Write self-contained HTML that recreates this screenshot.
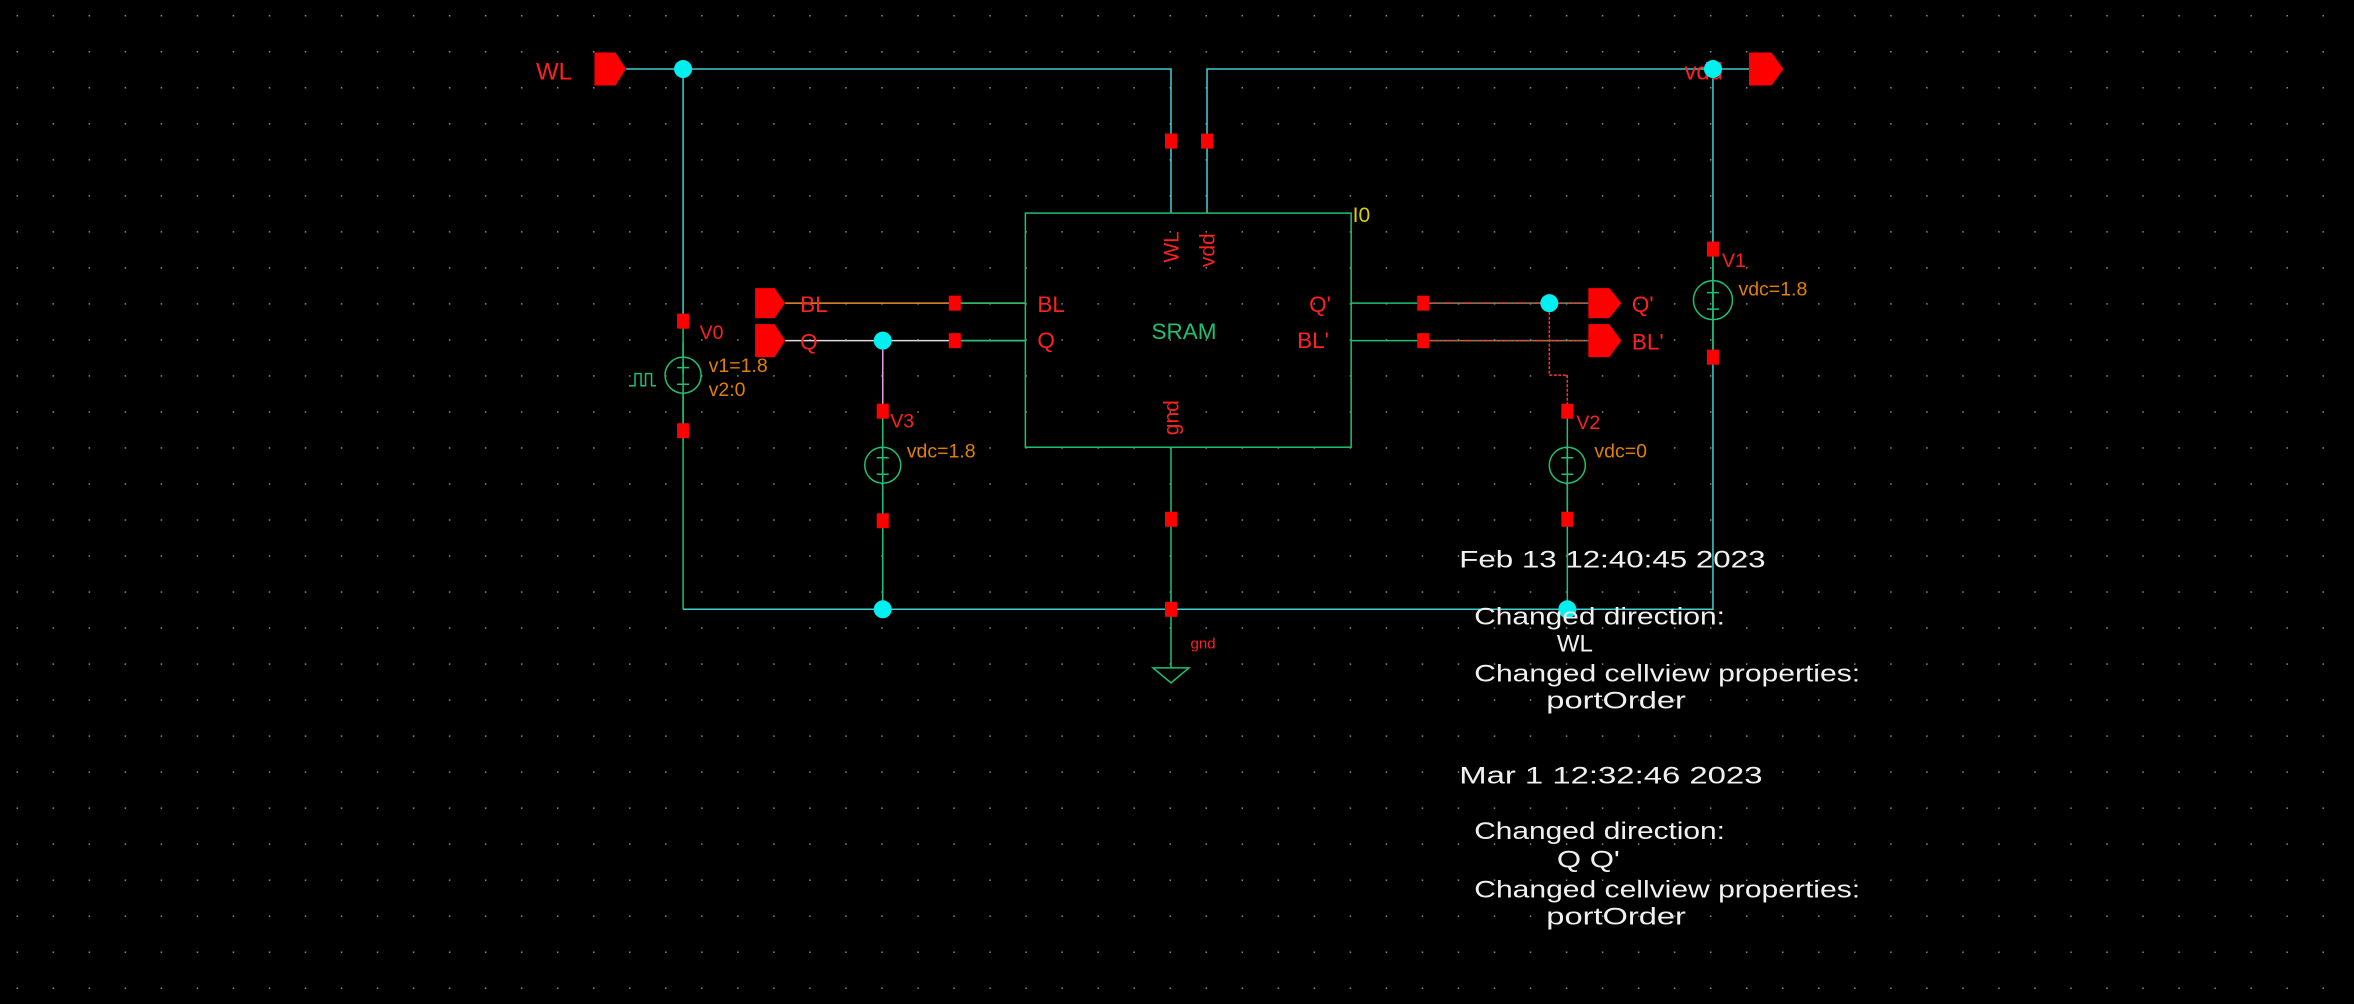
<!DOCTYPE html>
<html><head><meta charset="utf-8"><style>
html,body{margin:0;padding:0;background:#000;width:2354px;height:1004px;overflow:hidden}
svg{display:block}
text{font-family:"Liberation Sans",sans-serif}
</style></head><body>
<svg width="2354" height="1004" viewBox="0 0 1568 669" preserveAspectRatio="none" xmlns="http://www.w3.org/2000/svg">
<defs>
<pattern id="grid" x="11" y="10" width="24" height="24" patternUnits="userSpaceOnUse">
<rect x="0" y="0" width="1" height="1" fill="#8a8a8a"/>
</pattern>
</defs>
<rect width="1568" height="669" fill="#000"/>
<rect width="1568" height="669" fill="url(#grid)"/>

<g fill="none" stroke-width="1">
<polyline points="417,46 780,46 780,142" stroke="#3fd0d0"/>
<polyline points="804,142 804,46 1165,46" stroke="#3fd0d0"/>
<line x1="455" y1="46" x2="455" y2="214" stroke="#3fd0d0"/>
<line x1="455" y1="214" x2="455" y2="406" stroke="#1fc070"/>
<polyline points="455,406 1141,406 1141,46" stroke="#3fd0d0"/>
<line x1="1141" y1="166" x2="1141" y2="238" stroke="#1fc070"/>
<line x1="780" y1="298" x2="780" y2="445" stroke="#1fc070"/>
<line x1="523" y1="202" x2="683" y2="202" stroke="#e89030"/>
<line x1="636" y1="202" x2="683" y2="202" stroke="#1fc070"/>
<line x1="523" y1="227" x2="683" y2="227" stroke="#ddd"/>
<line x1="636" y1="227" x2="683" y2="227" stroke="#1fc070"/>
<line x1="588" y1="227" x2="588" y2="274" stroke="#e0a0e0"/>
<line x1="588" y1="274" x2="588" y2="406" stroke="#1fc070"/>
<line x1="900" y1="202" x2="1058" y2="202" stroke="#1fc070"/>
<line x1="948" y1="202" x2="1058" y2="202" stroke="#ff3030" stroke-dasharray="2,1"/>
<line x1="900" y1="227" x2="1058" y2="227" stroke="#1fc070"/>
<line x1="948" y1="227" x2="1058" y2="227" stroke="#ff3030" stroke-dasharray="2,1"/>
<polyline points="1032,202 1032,250 1044,250 1044,274" stroke="#ff3030" stroke-dasharray="2,1"/>
<line x1="1044" y1="274" x2="1044" y2="406" stroke="#1fc070"/>
</g>

<rect x="683" y="142" width="217" height="156" fill="none" stroke="#1fc070"/>
<text x="901" y="148" fill="#d8d000" font-size="14">I0</text>
<text x="767" y="226" fill="#1fc070" font-size="15">SRAM</text>
<text x="691" y="208" fill="#ff2020" font-size="15">BL</text>
<text x="691" y="232" fill="#ff2020" font-size="15">Q</text>
<text x="872" y="208" fill="#ff2020" font-size="15">Q'</text>
<text x="864" y="232" fill="#ff2020" font-size="15">BL'</text>
<text transform="translate(785,175) rotate(-90)" fill="#ff2020" font-size="14">WL</text>
<text transform="translate(809,178) rotate(-90)" fill="#ff2020" font-size="14">vdd</text>
<text transform="translate(785,290) rotate(-90)" fill="#ff2020" font-size="14">gnd</text>

<g fill="#ff0000">
<polygon points="396,35 410,35 417,46 410,57 396,57"/>
<polygon points="1165,35 1180,35 1188,46 1180,57 1165,57"/>
<polygon points="503,192 516,192 523,202 516,212 503,212"/>
<polygon points="503,216 516,216 523,227 516,238 503,238"/>
<polygon points="1058,192 1072,192 1080,202 1072,212 1058,212"/>
<polygon points="1058,216 1072,216 1080,227 1072,238 1058,238"/>
</g>
<text x="357" y="53" fill="#ff2020" font-size="16">WL</text>
<text x="1122" y="53" fill="#ff2020" font-size="16">vdd</text>
<text x="533" y="208" fill="#ff2020" font-size="15">BL</text>
<text x="533" y="233" fill="#ff2020" font-size="15">Q</text>
<text x="1087" y="208" fill="#ff2020" font-size="15">Q'</text>
<text x="1087" y="233" fill="#ff2020" font-size="15">BL'</text>

<g fill="#ff0000">
<rect x="776" y="89" width="8" height="10"/><rect x="800" y="89" width="8" height="10"/>
<rect x="632" y="197" width="8" height="10"/><rect x="632" y="222" width="8" height="10"/>
<rect x="944" y="197" width="8" height="10"/><rect x="944" y="222" width="8" height="10"/>
<rect x="451" y="209" width="8" height="10"/><rect x="451" y="282" width="8" height="10"/>
<rect x="584" y="269" width="8" height="10"/><rect x="584" y="342" width="8" height="10"/>
<rect x="1040" y="269" width="8" height="10"/><rect x="1040" y="341" width="8" height="10"/>
<rect x="1137" y="161" width="8" height="10"/><rect x="1137" y="233" width="8" height="10"/>
<rect x="776" y="341" width="8" height="10"/><rect x="776" y="401" width="8" height="10"/>
</g>

<g fill="#00f0f0">
<ellipse cx="455" cy="46" rx="6" ry="6"/><ellipse cx="1141" cy="46" rx="6" ry="6"/>
<ellipse cx="588" cy="227" rx="6" ry="6"/><ellipse cx="1032" cy="202" rx="6" ry="6"/>
<ellipse cx="588" cy="406" rx="6" ry="6"/><ellipse cx="1044" cy="406" rx="6" ry="6"/>
</g>

<g fill="none" stroke="#1fc070">
<circle cx="455" cy="250" r="12"/><line x1="455" y1="238" x2="455" y2="228"/><line x1="455" y1="262" x2="455" y2="282"/>
<circle cx="588" cy="310" r="12"/><line x1="588" y1="298" x2="588" y2="279"/><line x1="588" y1="322" x2="588" y2="342"/>
<circle cx="1044" cy="310" r="12"/><line x1="1044" y1="322" x2="1044" y2="341"/>
<circle cx="1141" cy="200" r="13"/>
<polyline points="419,257 423,257 423,249 427,249 427,257 430,257 430,249 434,249 434,257 437,257"/>
<polygon points="768,445 792,445 780,455"/>
<path d="M451,245 h8 M455,241 v8 M451,256 h8"/>
<path d="M584,305 h8 M588,301 v8 M584,316 h8"/>
<path d="M1040,305 h8 M1044,301 v8 M1040,316 h8"/>
<path d="M1137,195 h8 M1141,191 v8 M1137,206 h8"/>
</g>
<g font-size="13">
<text x="466" y="226" fill="#ff2020">V0</text>
<text x="472" y="248" fill="#e08000">v1=1.8</text>
<text x="472" y="264" fill="#e08000">v2:0</text>
<text x="593" y="285" fill="#ff2020">V3</text>
<text x="604" y="305" fill="#e08000">vdc=1.8</text>
<text x="1050" y="286" fill="#ff2020">V2</text>
<text x="1062" y="305" fill="#e08000">vdc=0</text>
<text x="1147" y="178" fill="#ff2020">V1</text>
<text x="1158" y="197" fill="#e08000">vdc=1.8</text>
<text x="793" y="432" fill="#ff2020" font-size="10">gnd</text>
</g>

<g fill="#f0f0f0" font-size="16">
<text x="972" y="378" textLength="204" lengthAdjust="spacingAndGlyphs">Feb 13 12:40:45 2023</text>
<text x="982" y="416" textLength="167" lengthAdjust="spacingAndGlyphs">Changed direction:</text>
<text x="1037" y="434" textLength="24" lengthAdjust="spacingAndGlyphs">WL</text>
<text x="982" y="454" textLength="257" lengthAdjust="spacingAndGlyphs">Changed cellview properties:</text>
<text x="1030" y="472" textLength="93" lengthAdjust="spacingAndGlyphs">portOrder</text>
<text x="972" y="522" textLength="202" lengthAdjust="spacingAndGlyphs">Mar  1 12:32:46 2023</text>
<text x="982" y="559" textLength="167" lengthAdjust="spacingAndGlyphs">Changed direction:</text>
<text x="1037" y="578" textLength="42" lengthAdjust="spacingAndGlyphs">Q Q'</text>
<text x="982" y="598" textLength="257" lengthAdjust="spacingAndGlyphs">Changed cellview properties:</text>
<text x="1030" y="616" textLength="93" lengthAdjust="spacingAndGlyphs">portOrder</text>
</g>
</svg>
</body></html>
